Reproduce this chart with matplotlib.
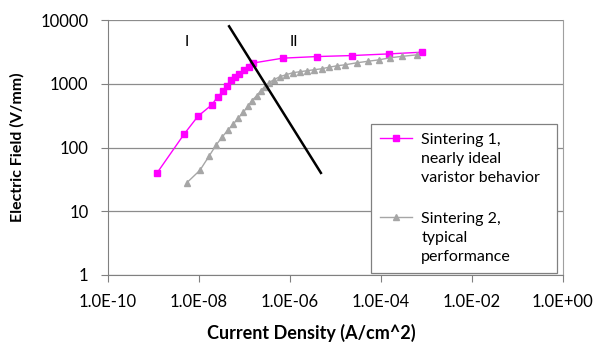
import matplotlib
matplotlib.use('Agg')
import matplotlib.pyplot as plt
from matplotlib.ticker import FixedLocator, NullLocator
from matplotlib.legend_handler import HandlerLine2D

plt.rcParams['font.family'] = ['Lato', 'DejaVu Sans']

# Sintering 1 (magenta squares)
j1 = [1.2e-9, 4.7e-9, 9.5e-9, 1.9e-8, 2.6e-8, 3.4e-8, 4.1e-8, 5.0e-8, 6.2e-8,
      7.6e-8, 9.7e-8, 1.26e-7, 1.54e-7, 7.0e-7, 3.9e-6, 2.3e-5, 1.5e-4, 8.0e-4]
e1 = [40, 162, 310, 466, 632, 765, 935, 1160, 1280,
      1440, 1620, 1850, 2120, 2530, 2680, 2780, 2950, 3140]

# Sintering 2 (gray triangles)
j2 = [5.4e-9, 1.05e-8, 1.66e-8, 2.37e-8, 3.2e-8, 4.3e-8, 5.6e-8, 7.2e-8, 9.3e-8,
      1.19e-7, 1.46e-7, 1.88e-7, 2.3e-7, 2.8e-7, 3.45e-7, 4.45e-7, 6.0e-7, 8.2e-7,
      1.16e-6, 1.66e-6, 2.37e-6, 3.4e-6, 5.0e-6, 7.2e-6, 1.08e-5, 1.62e-5, 2.97e-5,
      5.2e-5, 9.0e-5, 1.58e-4, 2.9e-4, 6.2e-4]
e2 = [28, 44, 73, 109, 145, 187, 231, 287, 356,
      441, 547, 655, 783, 904, 1045, 1160, 1295, 1390,
      1495, 1550, 1605, 1665, 1725, 1820, 1920, 1990, 2140,
      2260, 2380, 2560, 2700, 2850]

# boundary line between regions I and II
bound_j = [4.6e-8, 4.8e-6]
bound_e = [8000, 40]

xticks = [1e-10, 1e-8, 1e-6, 1e-4, 1e-2, 1e0]
xlabels = ['1.0E-10', '1.0E-08', '1.0E-06', '1.0E-04', '1.0E-02', '1.0E+00']
yticks = [1, 10, 100, 1000, 10000]
ylabels = ['1', '10', '100', '1000', '10000']

LEG_FS = 11.5
LEG_LS = 1.45


class TopLineHandler(HandlerLine2D):
    # put the legend marker next to the first line of a 3-line label
    def create_artists(self, legend, orig_handle, xdescent, ydescent,
                       width, height, fontsize, trans):
        shift = fontsize * LEG_LS * 0.92
        return super().create_artists(legend, orig_handle, xdescent,
                                      ydescent - 2 * shift, width, height,
                                      fontsize, trans)


fig = plt.figure(figsize=(6, 3.53), dpi=100)
ax = fig.add_axes([0.18, 0.221, 0.758, 0.722])

ax.set_xscale('log')
ax.set_yscale('log')
ax.set_xlim(1e-10, 1e0)
ax.set_ylim(1, 10000)

l1, = ax.plot(j1, e1, color='#ff00ff', lw=1, marker='s', ms=5,
              label='Sintering 1,\nnearly ideal\nvaristor behavior')
l2, = ax.plot(j2, e2, color='#a6a6a6', lw=1, marker='^', ms=5,
              label='Sintering 2,\ntypical\nperformance')
ax.plot(bound_j, bound_e, color='black', lw=1.8)

ax.text(5.5e-9, 4500, 'I', ha='center', va='center', fontsize=11)
ax.text(1.2e-6, 4500, 'II', ha='center', va='center', fontsize=11)

ax.xaxis.set_major_locator(FixedLocator(xticks))
ax.xaxis.set_minor_locator(NullLocator())
ax.set_xticklabels(xlabels)
ax.yaxis.set_major_locator(FixedLocator(yticks))
ax.yaxis.set_minor_locator(NullLocator())
ax.set_yticklabels(ylabels)
ax.tick_params(labelsize=12, length=5, pad=9, color='#808080', direction='out')

ax.grid(axis='y', color='#8c8c8c', lw=0.9)
ax.set_axisbelow(True)
for s in ['left', 'bottom']:
    ax.spines[s].set_color('#808080')
ax.spines['top'].set_visible(False)
ax.spines['right'].set_color('#a0a0a0')

ax.set_xlabel('Current Density (A/cm^2)', fontsize=13, fontweight='bold')
ax.xaxis.set_label_coords(0.448, -0.19)
ax.set_ylabel('Electric Field (V/mm)', fontsize=11.5, fontweight='bold')
ax.yaxis.set_label_coords(-0.183, 0.5)

leg = ax.legend(loc='lower left', bbox_to_anchor=(0.578, 0.008, 0.409, 0.6),
                mode='expand', fontsize=LEG_FS, fancybox=False, framealpha=1,
                edgecolor='#808080', handlelength=2, labelspacing=1.7,
                borderpad=0.55, handletextpad=0.6, borderaxespad=0,
                handler_map={l1: TopLineHandler(), l2: TopLineHandler()})
leg.get_frame().set_linewidth(0.9)
for t in leg.get_texts():
    t.set_linespacing(LEG_LS)

fig.savefig('out.png', dpi=100)
